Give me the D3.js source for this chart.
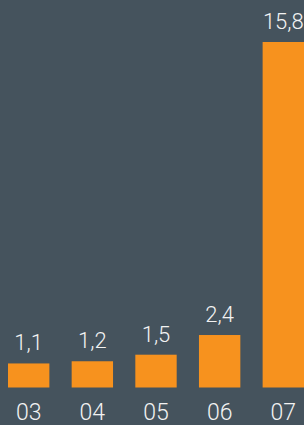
<!DOCTYPE html>
<html>
<head>
<meta charset="utf-8">
<script src="https://cdn.jsdelivr.net/npm/d3@7"></script>
<style>
  html, body { margin: 0; padding: 0; background: #45535d; }
  svg { display: block; }
</style>
</head>
<body>
<div id="chart"></div>
<script>
// Data
const years = ["03", "04", "05", "06", "07"];
const values = [1.1, 1.2, 1.5, 2.4, 15.8];
const valueLabels = ["1,1", "1,2", "1,5", "2,4", "15,8"];

const width = 304, height = 425;
const baseline = 387.5;

const svg = d3.select("#chart").append("svg")
    .attr("width", width)
    .attr("height", height);

svg.append("rect")
    .attr("width", width)
    .attr("height", height)
    .attr("fill", "#45535d");

// x band scale for the bars
const x = d3.scaleBand()
    .domain(years)
    .range([8, 304])
    .paddingInner(0.35)
    .paddingOuter(0);

// y linear scale, 15.8 reaches y = 42
const y = d3.scaleLinear()
    .domain([0, 15.8])
    .range([baseline, 42]);

const data = years.map((d, i) => ({ year: d, value: values[i], label: valueLabels[i] }));

// Bars
svg.selectAll("rect.bar")
    .data(data)
    .enter()
    .append("rect")
    .attr("class", "bar")
    .attr("x", d => x(d.year))
    .attr("y", d => y(d.value))
    .attr("width", x.bandwidth())
    .attr("height", d => baseline - y(d.value))
    .attr("fill", "#f7921e");

// Value labels above bars
svg.selectAll("text.value")
    .data(data)
    .enter()
    .append("text")
    .attr("class", "value")
    .attr("x", d => x(d.year) + x.bandwidth() / 2)
    .attr("y", d => y(d.value) - 13)
    .attr("text-anchor", "middle")
    .attr("fill", "#f2f2f2")
    .style("font-family", "Roboto, 'Liberation Sans', sans-serif")
    .style("font-weight", 300)
    .style("font-size", "22px")
    .text(d => d.label);

// Category labels
svg.selectAll("text.year")
    .data(data)
    .enter()
    .append("text")
    .attr("class", "year")
    .attr("x", d => x(d.year) + x.bandwidth() / 2)
    .attr("y", 420)
    .attr("text-anchor", "middle")
    .attr("fill", "#f2f2f2")
    .style("font-family", "Roboto, 'Liberation Sans', sans-serif")
    .style("font-weight", 300)
    .style("font-size", "23px")
    .text(d => d.year);
</script>
</body>
</html>
